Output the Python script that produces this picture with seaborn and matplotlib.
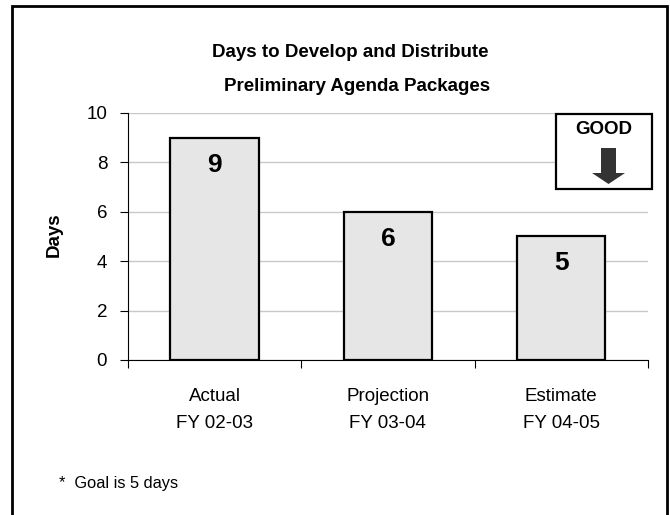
import matplotlib
matplotlib.use('Agg')
import matplotlib.pyplot as plt
import seaborn as sns
import pandas as pd
from matplotlib.patches import Rectangle, Polygon

# Chart data
categories = ['Actual\nFY 02-03', 'Projection\nFY 03-04', 'Estimate\nFY 04-05']
days = [9, 6, 5]
yticks = [0, 2, 4, 6, 8, 10]

df = pd.DataFrame({'period': categories, 'days': days})

sns.set_style('white')
plt.rcParams['font.family'] = ['Liberation Sans', 'DejaVu Sans']
plt.rcParams['text.color'] = 'black'
plt.rcParams['xtick.color'] = 'black'
plt.rcParams['ytick.color'] = 'black'
plt.rcParams['axes.labelcolor'] = 'black'

fig = plt.figure(figsize=(6.7, 5.15), dpi=100)
ax = fig.add_axes([0.191, 0.301, 0.776, 0.480])

sns.barplot(data=df, x='period', y='days', color='#e6e6e6', width=0.51,
            edgecolor='black', linewidth=1.6, saturation=1, ax=ax, zorder=2)

ax.set_ylim(0, 10)
ax.set_xlim(-0.5, 2.5)
ax.set_yticks(yticks)
ax.set_yticklabels([str(t) for t in yticks], fontsize=13.5)
ax.tick_params(axis='y', direction='out', length=6, width=0.8, color='black', pad=9, left=True)

# category labels at centres, tick marks between categories
ax.set_xticks(range(len(categories)))
ax.set_xticklabels(categories, fontsize=13.5, linespacing=1.8)
ax.tick_params(axis='x', which='major', length=0, pad=20)
ax.set_xticks([i - 0.5 for i in range(len(categories) + 1)], minor=True)
ax.tick_params(axis='x', which='minor', direction='out', length=6, width=0.8, color='black', bottom=True)

ax.yaxis.grid(True, color='#c8c8c8', linewidth=1.0, zorder=0)
ax.set_axisbelow(True)
for s in ['top', 'right']:
    ax.spines[s].set_visible(False)
for s in ['left', 'bottom']:
    ax.spines[s].set_color('black')
    ax.spines[s].set_linewidth(0.8)

ax.set_xlabel('')
ax.set_ylabel('Days', fontsize=13.5, fontweight='bold')
ax.yaxis.set_label_coords(-0.125, 0.506)

# value labels inside the bars
for i, v in enumerate(days):
    ax.annotate(str(v), xy=(i, v), xytext=(0, -19.5), textcoords='offset points',
                ha='center', va='center', fontsize=19, fontweight='bold')

# title
fig.text(350 / 670, 1 - 57 / 515, 'Days to Develop and Distribute', ha='center',
         va='baseline', fontsize=13.5, fontweight='bold')
fig.text(357 / 670, 1 - 91 / 515, 'Preliminary Agenda Packages', ha='center',
         va='baseline', fontsize=13.5, fontweight='bold')

# footnote
fig.text(59 / 670, 1 - 488 / 515, '*  Goal is 5 days', ha='left', va='baseline', fontsize=11.8)

# "GOOD" indicator box
box = Rectangle((5.56, (515 - 189) / 100), 0.96, 0.75, transform=fig.dpi_scale_trans,
                facecolor='white', edgecolor='black', linewidth=1.6, zorder=5)
fig.patches.append(box)
fig.text(604 / 670, 1 - 130 / 515, 'GOOD', ha='center', va='center', fontsize=13.5,
         fontweight='bold', zorder=6)
arrow_px = [(601, 148), (616, 148), (616, 173), (625, 173), (608.5, 184), (592, 173), (601, 173)]
arrow = Polygon([(x / 100, (515 - y) / 100) for x, y in arrow_px], closed=True,
                transform=fig.dpi_scale_trans, facecolor='#333333', edgecolor='none', zorder=6)
fig.patches.append(arrow)

# outer frame
frame = Rectangle((0.12, -0.05), 6.55, 5.14, transform=fig.dpi_scale_trans,
                  facecolor='none', edgecolor='black', linewidth=2, zorder=5)
fig.patches.append(frame)

fig.savefig('out.png', dpi=100)
